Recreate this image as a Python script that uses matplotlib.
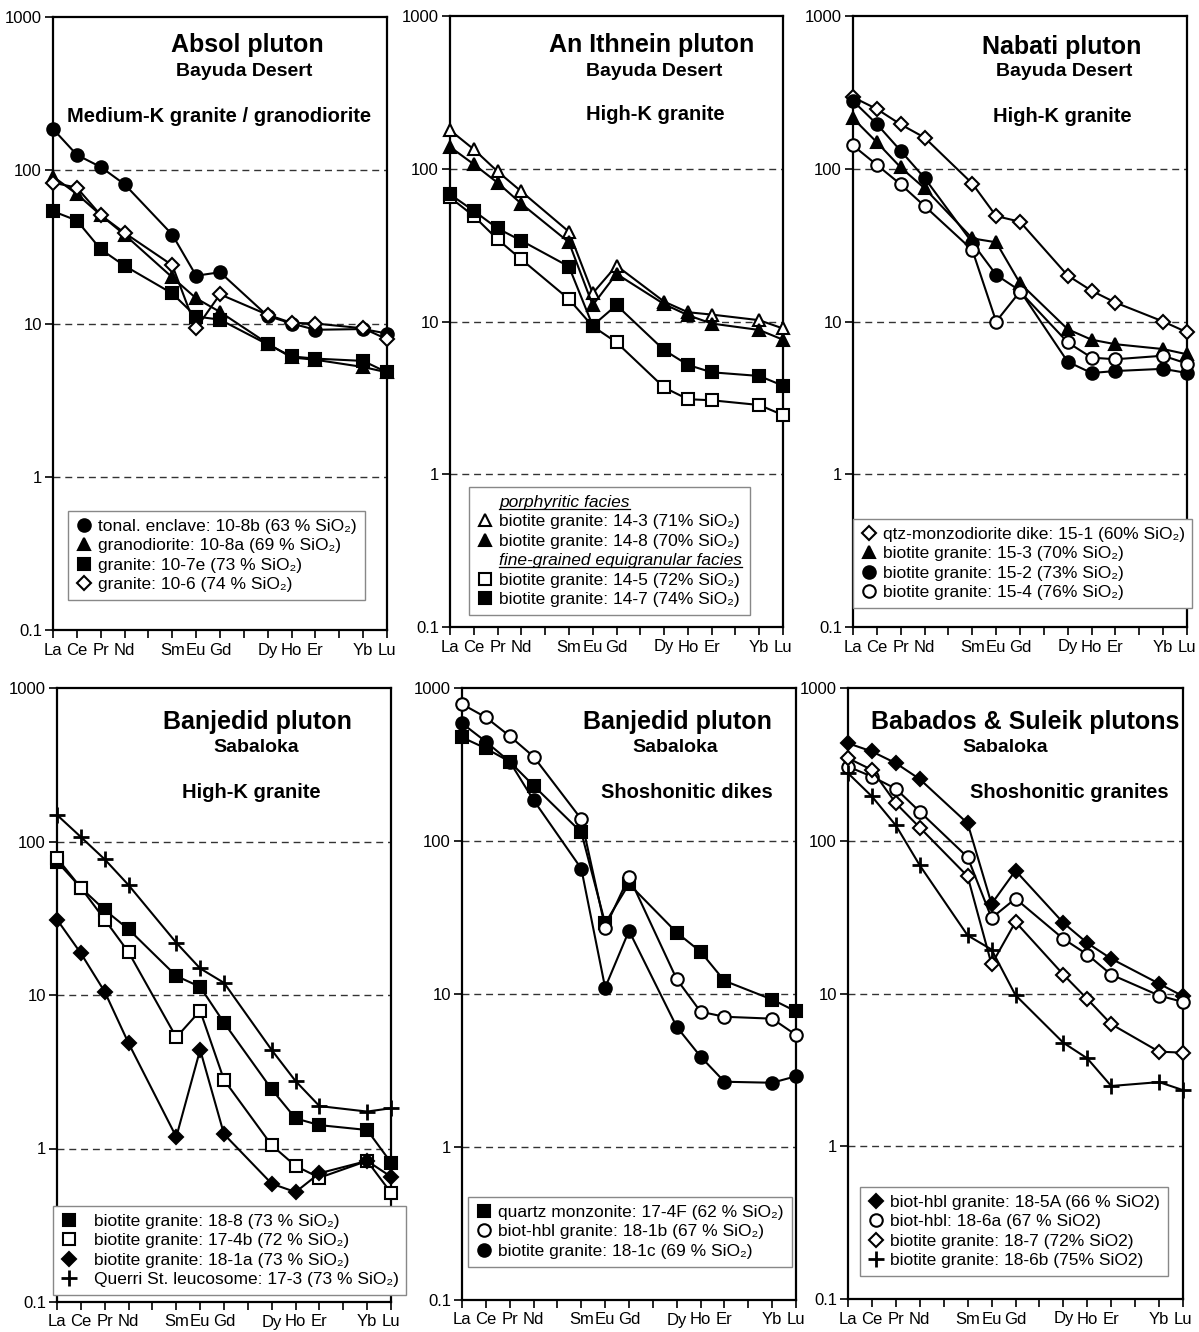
import numpy as np
import matplotlib
matplotlib.use('Agg')
import matplotlib.pyplot as plt
from matplotlib.lines import Line2D

plt.rcParams['font.family'] = ['Liberation Sans', 'DejaVu Sans']

W, H = 1199, 1332

# rare earth element positions (Pm, Tb, Tm not analysed)
ree = ['La', 'Ce', 'Pr', 'Nd', 'Pm', 'Sm', 'Eu', 'Gd', 'Tb', 'Dy', 'Ho', 'Er', 'Tm', 'Yb', 'Lu']
ree_labels = ['La', 'Ce', 'Pr', 'Nd', '', 'Sm', 'Eu', 'Gd', '', 'Dy', 'Ho', 'Er', '', 'Yb', 'Lu']
measured = ['La', 'Ce', 'Pr', 'Nd', 'Sm', 'Eu', 'Gd', 'Dy', 'Ho', 'Er', 'Yb', 'Lu']

# chondrite normalised values
# Absol pluton
s10_8b = [186, 126, 105, 81, 38, 20.5, 21.6, 11.2, 10.0, 9.1, 9.2, 8.6]
s10_8a = [91, 70, 51, 38, 20, 14.6, 11.9, 7.4, 6.0, 5.8, 5.2, 4.8]
s10_7e = [54, 47, 30.5, 23.8, 15.7, 11.1, 10.6, 7.3, 6.1, 5.9, 5.7, 4.8]
s10_6 = [83, 77, 51, 39, 24, 9.3, 15.5, 11.4, 10.1, 10.0, 9.3, 7.9]
# An Ithnein pluton
s14_3 = [179, 134, 96, 71, 38.7, 15.3, 23.2, 13.5, 11.5, 11.1, 10.2, 9.0]
s14_8 = [139, 107, 81, 59, 33, 12.8, 20.5, 13.0, 11.0, 9.7, 8.8, 7.6]
s14_5 = [65, 49, 34.5, 25.5, 14.0, 9.3, 7.3, 3.7, 3.1, 3.05, 2.84, 2.44]
s14_7 = [68, 53, 40.7, 33.8, 22.9, 9.4, 12.8, 6.5, 5.2, 4.65, 4.4, 3.8]
# Nabati pluton
s15_1 = [294, 246, 195, 160, 80, 49, 45, 20, 15.9, 13.3, 10, 8.5]
s15_3 = [214, 149, 102, 74.5, 35, 33, 17.8, 8.9, 7.6, 7.1, 6.6, 6.1]
s15_2 = [278, 196, 131, 87, 32.8, 20.2, 15.9, 5.45, 4.6, 4.74, 4.9, 4.6]
s15_4 = [142, 106, 79, 57, 29.4, 10, 15.7, 7.3, 5.8, 5.66, 5.97, 5.3]
# Banjedid pluton, granites
s18_8 = [74, 50, 35.8, 26.8, 13.3, 11.3, 6.6, 2.43, 1.57, 1.42, 1.32, 0.81]
s17_4b = [78, 50, 31, 19, 5.3, 7.9, 2.8, 1.05, 0.77, 0.645, 0.83, 0.515]
s18_1a = [31, 18.7, 10.5, 4.85, 1.19, 4.4, 1.24, 0.59, 0.52, 0.69, 0.83, 0.655]
s17_3 = [149, 107, 76.5, 52, 21.9, 14.9, 12.0, 4.38, 2.75, 1.89, 1.74, 1.83]
# Banjedid pluton, dikes
s17_4F = [476, 403, 330, 230, 114, 29, 52.4, 25.2, 18.9, 12.2, 9.2, 7.7]
s18_1b = [785, 643, 485, 356, 139, 27.1, 58.5, 12.5, 7.66, 7.1, 6.9, 5.4]
s18_1c = [588, 446, 330, 185, 66, 11.0, 25.9, 6.1, 3.9, 2.67, 2.63, 2.9]
# Babados & Suleik plutons
s18_5A = [435, 384, 322, 253, 130, 38.6, 63.7, 29, 21.4, 16.9, 11.6, 9.6]
s18_6a = [306, 263, 219, 155, 78, 31.2, 41.8, 22.8, 18, 13.3, 9.7, 8.8]
s18_7 = [347, 291, 176, 122, 58.5, 15.5, 29.4, 13.3, 9.2, 6.3, 4.16, 4.1]
s18_6b = [277, 195, 126, 69, 24, 19.4, 9.75, 4.76, 3.76, 2.48, 2.63, 2.33]

xpos = [ree.index(e) for e in measured]

# marker styles: (marker, filled, size)
styles = {
    'circle': ('o', True, 9), 'ocircle': ('o', False, 9),
    'tri': ('^', True, 9), 'otri': ('^', False, 9),
    'square': ('s', True, 8), 'osquare': ('s', False, 8),
    'diamond': ('D', True, 7.5), 'odiamond': ('D', False, 7.5),
    'plus': ('+', True, 12),
}

T1, T2, T3 = 18, 14, 14.5

panels = [
    dict(rect=(53, 17, 387, 630),
         texts=[('Absol pluton', 247, 45, T1), ('Bayuda Desert', 244, 71, T2),
                ('Medium-K granite / granodiorite', 219, 117, T3)],
         series=[(s10_8b, 'circle', 'tonal. enclave: 10-8b (63 % SiO\u2082)'),
                 (s10_8a, 'tri', 'granodiorite: 10-8a (69 % SiO\u2082)'),
                 (s10_7e, 'square', 'granite: 10-7e (73 % SiO\u2082)'),
                 (s10_6, 'odiamond', 'granite: 10-6 (74 % SiO\u2082)')],
         legend=(68, 511), tpad=0.4),
    dict(rect=(450, 16, 783, 627),
         texts=[('An Ithnein pluton', 652, 45, T1), ('Bayuda Desert', 654, 71, T2),
                ('High-K granite', 655, 115, T3)],
         series=[(None, None, 'porphyritic facies'),
                 (s14_3, 'otri', 'biotite granite: 14-3 (71% SiO\u2082)'),
                 (s14_8, 'tri', 'biotite granite: 14-8 (70% SiO\u2082)'),
                 (None, None, 'fine-grained equigranular facies'),
                 (s14_5, 'osquare', 'biotite granite: 14-5 (72% SiO\u2082)'),
                 (s14_7, 'square', 'biotite granite: 14-7 (74% SiO\u2082)')],
         legend=(469, 487), tpad=0.4),
    dict(rect=(853, 16, 1187, 627),
         texts=[('Nabati pluton', 1062, 47, T1), ('Bayuda Desert', 1064, 72, T2),
                ('High-K granite', 1062, 117, T3)],
         series=[(s15_1, 'odiamond', 'qtz-monzodiorite dike: 15-1 (60% SiO\u2082)'),
                 (s15_3, 'tri', 'biotite granite: 15-3 (70% SiO\u2082)'),
                 (s15_2, 'circle', 'biotite granite: 15-2 (73% SiO\u2082)'),
                 (s15_4, 'ocircle', 'biotite granite: 15-4 (76% SiO\u2082)')],
         legend=(853, 519), tpad=0.35),
    dict(rect=(57, 688, 391, 1302),
         texts=[('Banjedid pluton', 257, 722, T1), ('Sabaloka', 256, 747, T2),
                ('High-K granite', 251, 792, T3)],
         series=[(s18_8, 'square', 'biotite granite: 18-8 (73 % SiO\u2082)'),
                 (s17_4b, 'osquare', 'biotite granite: 17-4b (72 % SiO\u2082)'),
                 (s18_1a, 'diamond', 'biotite granite: 18-1a (73 % SiO\u2082)'),
                 (s17_3, 'plus', 'Querri St. leucosome: 17-3 (73 % SiO\u2082)')],
         legend=(53, 1206), tpad=1.0),
    dict(rect=(462, 688, 796, 1300),
         texts=[('Banjedid pluton', 677, 722, T1), ('Sabaloka', 675, 747, T2),
                ('Shoshonitic dikes', 687, 792, T3)],
         series=[(s17_4F, 'square', 'quartz monzonite: 17-4F (62 % SiO\u2082)'),
                 (s18_1b, 'ocircle', 'biot-hbl granite: 18-1b (67 % SiO\u2082)'),
                 (s18_1c, 'circle', 'biotite granite: 18-1c (69 % SiO\u2082)')],
         legend=(468, 1197), tpad=0.4),
    dict(rect=(848, 688, 1183, 1299),
         texts=[('Babados & Suleik plutons', 1025, 722, T1), ('Sabaloka', 1005, 747, T2),
                ('Shoshonitic granites', 1069, 792, T3)],
         series=[(s18_5A, 'diamond', 'biot-hbl granite: 18-5A (66 % SiO2)'),
                 (s18_6a, 'ocircle', 'biot-hbl: 18-6a (67 % SiO2)'),
                 (s18_7, 'odiamond', 'biotite granite: 18-7 (72% SiO2)'),
                 (s18_6b, 'plus', 'biotite granite: 18-6b (75% SiO2)')],
         legend=(860, 1187), tpad=0.4),
]


def marker_kw(key):
    m, filled, ms = styles[key]
    kw = dict(marker=m, markersize=ms, markeredgecolor='black', markeredgewidth=1.5)
    if m == '+':
        kw['markeredgewidth'] = 2
    kw['markerfacecolor'] = 'black' if filled else 'white'
    return kw


fig = plt.figure(figsize=(W / 100, H / 100), dpi=100)
headings = []

for p in panels:
    l, t, r, b = p['rect']
    ax = fig.add_axes([l / W, 1 - b / H, (r - l) / W, (b - t) / H])
    ax.set_yscale('log')
    ax.set_ylim(0.1, 1000)
    ax.set_xlim(0, 14)
    ax.set_xticks(range(15))
    ax.set_xticklabels(ree_labels, fontsize=12)
    ax.set_yticks([0.1, 1, 10, 100, 1000])
    ax.set_yticklabels(['0.1', '1', '10', '100', '1000'], fontsize=12)
    ax.yaxis.set_minor_locator(matplotlib.ticker.NullLocator())
    ax.tick_params(axis='both', direction='out', length=6, width=1.2, color='black')
    ax.tick_params(axis='x', pad=3)
    ax.tick_params(axis='y', pad=2)
    for yv in [1, 10, 100]:
        ax.axhline(yv, color='#333333', lw=1, ls=(0, (5, 3.5)), zorder=1)
    for sp in ax.spines.values():
        sp.set_linewidth(1.6)

    handles, labels = [], []
    for vals, key, lab in p['series']:
        if vals is None:
            handles.append(Line2D([], [], linestyle='none'))
        else:
            ax.plot(xpos, vals, color='black', lw=1.5, clip_on=False, zorder=3, **marker_kw(key))
            handles.append(Line2D([], [], linestyle='none', **marker_kw(key)))
        labels.append(lab)

    lx, ly = p['legend']
    leg = ax.legend(handles, labels, loc='upper left', bbox_to_anchor=(lx / W, 1 - ly / H),
                    bbox_transform=fig.transFigure, borderaxespad=0, fontsize=12.5,
                    handlelength=0.9, handletextpad=p['tpad'], labelspacing=0.25,
                    borderpad=0.45, fancybox=False, framealpha=1, edgecolor='#888888')
    leg.get_frame().set_linewidth(1)
    leg.set_zorder(5)
    for txt, (vals, key, lab) in zip(leg.get_texts(), p['series']):
        if vals is None:
            txt.set_fontstyle('italic')
            headings.append(txt)

    for s, x, y, fs in p['texts']:
        fig.text(x / W, 1 - y / H, s, fontsize=fs, fontweight='bold', ha='center', va='center')

# underline the italic legend headings
fig.canvas.draw()
rend = fig.canvas.get_renderer()
for txt in headings:
    bb = txt.get_window_extent(rend)
    yy = bb.y0 + 1
    fig.add_artist(Line2D([bb.x0 / W, bb.x1 / W], [yy / H, yy / H], color='black', lw=0.9,
                          transform=fig.transFigure, zorder=10))

fig.savefig('out.png', dpi=100)
